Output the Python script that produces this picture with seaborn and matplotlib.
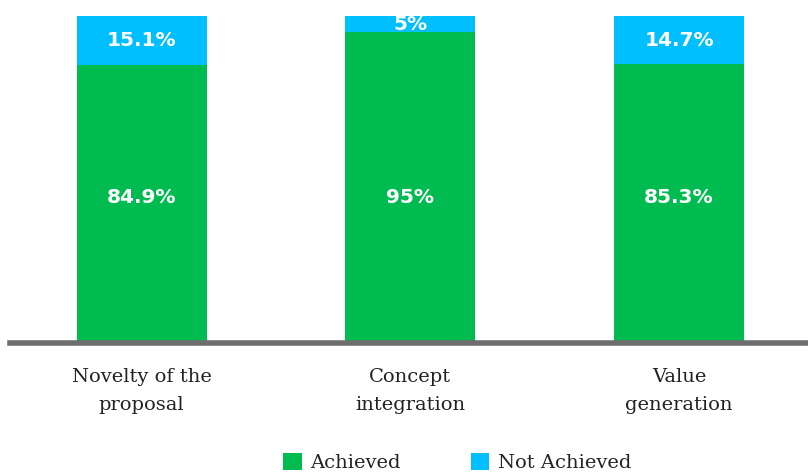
import matplotlib
matplotlib.use("Agg")
import matplotlib.pyplot as plt
from matplotlib.patches import Patch
import seaborn as sns
import pandas as pd

categories = ["Novelty of the\nproposal", "Concept\nintegration", "Value\ngeneration"]
achieved = [84.9, 95.0, 85.3]
not_achieved = [15.1, 5.0, 14.7]
series_names = ["Achieved", "Not Achieved"]

GREEN = "#00BC50"
CYAN = "#00BFFF"

df = pd.DataFrame({"category": categories,
                   "achieved": achieved,
                   "not_achieved": not_achieved})
df["total"] = df["achieved"] + df["not_achieved"]

sns.set_theme(style="white")
plt.rcParams["font.family"] = ["DejaVu Serif", "DejaVu Sans"]

fig = plt.figure(figsize=(8.08, 4.72), dpi=100)
ax = fig.add_axes([0.0124, 0.273, 0.9876, 0.693])

# stacked bars: full height in cyan, achieved share drawn over it in green
sns.barplot(data=df, x="category", y="total", color=CYAN, width=0.484,
            saturation=1, linewidth=0, ax=ax)
sns.barplot(data=df, x="category", y="achieved", color=GREEN, width=0.484,
            saturation=1, linewidth=0, ax=ax)

ax.set_ylim(0, 100)
ax.set_xlim(-0.49, 2.48)
ax.set_xlabel("")
ax.set_ylabel("")
ax.set_yticks([])
for s in ["top", "left", "right"]:
    ax.spines[s].set_visible(False)
ax.spines["bottom"].set_color("#6E6E6E")
ax.spines["bottom"].set_linewidth(4)
ax.tick_params(axis="x", length=0, pad=18, labelsize=14, colors="#222222")
for t in ax.get_xticklabels():
    t.set_linespacing(1.7)

for i, (a, n) in enumerate(zip(achieved, not_achieved)):
    ax.text(i, 44.6, f"{a:g}%", ha="center", va="center", color="white",
            fontsize=14.5, fontweight="bold", family="DejaVu Sans")
    ax.text(i, a + n / 2, f"{n:g}%", ha="center", va="center", color="white",
            fontsize=14.5, fontweight="bold", family="DejaVu Sans")

handles = [Patch(facecolor=GREEN, edgecolor="none"),
           Patch(facecolor=CYAN, edgecolor="none")]
fig.legend(handles, series_names, loc="center", bbox_to_anchor=(0.566, 0.02),
           ncol=2, frameon=False, fontsize=14, handlelength=0.95,
           handleheight=0.95, handletextpad=0.45, columnspacing=3.6,
           labelcolor="#222222")

fig.savefig("out.png", dpi=100)
